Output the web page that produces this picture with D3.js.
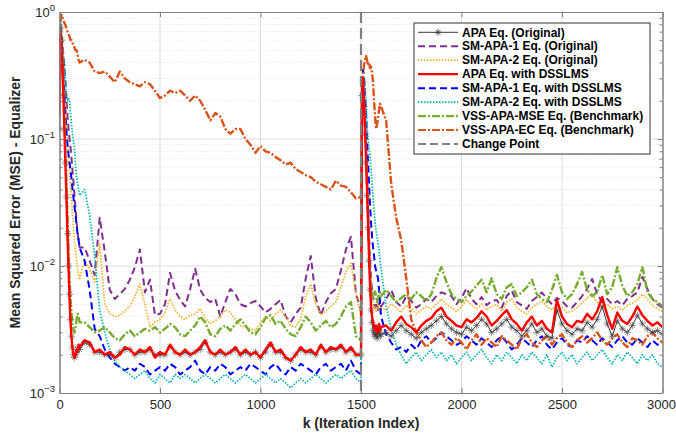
<!DOCTYPE html>
<html>
<head>
<meta charset="utf-8">
<script src="https://cdn.jsdelivr.net/npm/d3@7"></script>
<style>
  html, body { margin: 0; padding: 0; background: #fff; }
  svg { display: block; font-family: "Liberation Sans", Arial, sans-serif; }
</style>
</head>
<body>
<svg id="chart" width="676" height="436"></svg>
<script>
// Iteration indices at which the learning curves are sampled
const kGrid = [].concat(
  d3.range(0, 101, 5),        // start-up transient
  d3.range(125, 1476, 25),    // first steady state
  d3.range(1500, 1601, 5),    // change point transient
  d3.range(1625, 3001, 25)    // second steady state
);

// APA Eq. (Original)
const mseApaOrig = [
  0.12,0.75,0.6,0.38,0.22,0.12,0.065,0.035,0.018,0.010,
  0.006,0.0038,0.0028,0.0023,0.0020,0.0019,0.0020,0.0021,0.0022,0.0023,
  0.0022,
  0.0025,0.0024,0.0021,0.0021,0.0020,0.0020,0.0019,0.0021,0.0022,0.0022,
  0.0020,0.0021,0.0021,0.0022,0.0020,0.0020,0.0020,0.0023,0.0021,0.0020,
  0.0021,0.0020,0.0021,0.0022,0.0025,0.0021,0.0020,0.0021,0.0020,0.0021,
  0.0022,0.0020,0.0021,0.0020,0.0021,0.0019,0.0021,0.0024,0.0021,0.0021,
  0.0019,0.0018,0.0020,0.0022,0.0021,0.0021,0.0020,0.0023,0.0021,0.0022,
  0.0022,0.0023,0.0021,0.0022,0.0020,
  0.0020,0.22,0.28,0.18,0.11,0.065,0.036,0.020,0.011,0.0065,
  0.0045,0.0036,0.0031,0.0029,0.0028,0.0030,0.0027,0.0029,0.0031,0.0028,
  0.0029,
  0.0030,0.0028,0.0031,0.0034,0.0031,0.0029,0.0027,0.0030,0.0032,0.0034,
  0.0037,0.0040,0.0035,0.0032,0.0030,0.0029,0.0033,0.0031,0.0034,0.0038,
  0.0035,0.0030,0.0032,0.0035,0.0038,0.0033,0.0031,0.0028,0.0031,0.0035,
  0.0030,0.0032,0.0028,0.0027,0.0045,0.0035,0.0031,0.0029,0.0032,0.0031,
  0.0036,0.0033,0.0038,0.0048,0.0035,0.0028,0.0037,0.0032,0.0030,0.0034,
  0.0041,0.0035,0.0032,0.0030,0.0031,0.0029
];

// SM-APA-1 Eq. (Original)
const mseSmApa1Orig = [
  0.3,0.8,0.7,0.55,0.45,0.35,0.28,0.2,0.15,0.12,
  0.1,0.085,0.07,0.055,0.045,0.035,0.028,0.022,0.018,0.016,
  0.014,
  0.014,0.011,0.0085,0.024,0.013,0.0065,0.0055,0.0060,0.0066,0.0078,
  0.0098,0.0135,0.0062,0.0078,0.0041,0.0042,0.0050,0.0088,0.0064,0.0054,
  0.0048,0.0066,0.0095,0.0065,0.0056,0.0052,0.0055,0.0040,0.0052,0.0066,
  0.0060,0.0050,0.0048,0.0051,0.0053,0.0048,0.0043,0.0046,0.0050,0.0054,
  0.0040,0.0036,0.0042,0.0047,0.0080,0.0120,0.0056,0.0041,0.0052,0.0061,
  0.0066,0.0092,0.0135,0.0170,0.0060,
  0.0045,0.2,0.3,0.22,0.14,0.09,0.05,0.03,0.018,0.011,
  0.008,0.0062,0.0055,0.0050,0.0047,0.0052,0.0049,0.0045,0.0050,0.0054,
  0.0048,
  0.0055,0.0065,0.0052,0.0048,0.0058,0.0053,0.0047,0.0050,0.0055,0.0052,
  0.0058,0.0062,0.0060,0.0058,0.0050,0.0056,0.0067,0.0055,0.0050,0.0057,
  0.0049,0.0053,0.0054,0.0047,0.0058,0.0064,0.0052,0.0049,0.0046,0.0053,
  0.0057,0.0062,0.0055,0.0050,0.0056,0.0053,0.0048,0.0047,0.0052,0.0058,
  0.0066,0.0079,0.0060,0.0052,0.0055,0.0050,0.0053,0.0049,0.0055,0.0058,
  0.0062,0.0082,0.0066,0.0055,0.0050,0.0047
];

// SM-APA-2 Eq. (Original)
const mseSmApa2Orig = [
  0.4,0.75,0.65,0.5,0.38,0.28,0.2,0.14,0.1,0.075,
  0.055,0.042,0.032,0.025,0.02,0.016,0.013,0.011,0.0095,0.0085,
  0.008,
  0.011,0.0095,0.0075,0.0150,0.0050,0.0042,0.0040,0.0041,0.0044,0.0048,
  0.0058,0.0072,0.0050,0.0033,0.0036,0.0038,0.0043,0.0055,0.0045,0.0040,
  0.0038,0.0041,0.0042,0.0046,0.0039,0.0035,0.0037,0.0040,0.0045,0.0043,
  0.0038,0.0034,0.0033,0.0032,0.0031,0.0036,0.0040,0.0037,0.0042,0.0045,
  0.0040,0.0034,0.0033,0.0038,0.0058,0.0072,0.0050,0.0041,0.0044,0.0048,
  0.0052,0.0068,0.0090,0.0105,0.0060,
  0.0040,0.22,0.3,0.22,0.13,0.08,0.045,0.026,0.015,0.009,
  0.0065,0.0055,0.0050,0.0046,0.0048,0.0044,0.0046,0.0050,0.0045,0.0043,
  0.0047,
  0.0045,0.0050,0.0047,0.0043,0.0049,0.0046,0.0042,0.0045,0.0048,0.0046,
  0.0050,0.0055,0.0050,0.0047,0.0044,0.0048,0.0054,0.0049,0.0046,0.0050,
  0.0045,0.0048,0.0050,0.0044,0.0052,0.0055,0.0047,0.0044,0.0042,0.0047,
  0.0050,0.0053,0.0048,0.0045,0.0050,0.0047,0.0043,0.0044,0.0047,0.0051,
  0.0056,0.0060,0.0052,0.0049,0.0050,0.0046,0.0048,0.0045,0.0049,0.0051,
  0.0054,0.0060,0.0055,0.0049,0.0046,0.0044
];

// APA Eq. with DSSLMS
const mseApaDss = [
  0.15,0.7,0.55,0.35,0.2,0.11,0.06,0.032,0.017,0.0095,
  0.0055,0.0036,0.0027,0.0022,0.0020,0.0019,0.0020,0.0022,0.0021,0.0024,
  0.0023,
  0.0026,0.0025,0.0021,0.0022,0.0020,0.0021,0.0019,0.0020,0.0023,0.0022,
  0.0020,0.0022,0.0021,0.0023,0.0019,0.0021,0.0020,0.0024,0.0021,0.0020,
  0.0022,0.0020,0.0021,0.0023,0.0026,0.0021,0.0020,0.0022,0.0020,0.0021,
  0.0023,0.0020,0.0022,0.0020,0.0021,0.0019,0.0022,0.0025,0.0021,0.0022,
  0.0019,0.0018,0.0020,0.0023,0.0021,0.0022,0.0020,0.0024,0.0021,0.0023,
  0.0022,0.0024,0.0021,0.0023,0.0020,
  0.0020,0.25,0.3,0.2,0.12,0.07,0.04,0.022,0.012,0.007,
  0.0048,0.0040,0.0036,0.0033,0.0031,0.0034,0.0030,0.0032,0.0035,0.0031,
  0.0033,
  0.0034,0.0031,0.0036,0.0040,0.0035,0.0033,0.0030,0.0034,0.0037,0.0039,
  0.0044,0.0047,0.0040,0.0037,0.0034,0.0033,0.0038,0.0036,0.0039,0.0044,
  0.0040,0.0034,0.0037,0.0041,0.0045,0.0038,0.0035,0.0031,0.0036,0.0040,
  0.0034,0.0037,0.0032,0.0030,0.0054,0.0040,0.0035,0.0033,0.0037,0.0036,
  0.0042,0.0038,0.0044,0.0057,0.0041,0.0032,0.0043,0.0037,0.0035,0.0040,
  0.0048,0.0041,0.0037,0.0034,0.0036,0.0033
];

// SM-APA-1 Eq. with DSSLMS
const mseSmApa1Dss = [
  0.25,0.7,0.6,0.42,0.3,0.21,0.15,0.11,0.09,0.075,
  0.065,0.056,0.048,0.04,0.034,0.029,0.025,0.021,0.018,0.016,
  0.014,
  0.011,0.0065,0.0032,0.0028,0.0022,0.0019,0.0017,0.0016,0.0015,0.0016,
  0.0015,0.0017,0.0016,0.0014,0.0015,0.0016,0.0015,0.0017,0.0016,0.0014,
  0.0015,0.0016,0.0018,0.0015,0.0014,0.0016,0.0015,0.0017,0.0016,0.0014,
  0.0015,0.0016,0.0015,0.0017,0.0016,0.0015,0.0014,0.0016,0.0017,0.0015,
  0.0014,0.0016,0.0015,0.0017,0.0016,0.0015,0.0014,0.0016,0.0017,0.0015,
  0.0016,0.0017,0.0015,0.0018,0.0015,
  0.0014,0.22,0.35,0.3,0.22,0.16,0.1,0.065,0.045,0.03,
  0.022,0.017,0.014,0.012,0.010,0.0092,0.0085,0.008,0.0065,0.005,
  0.004,
  0.0029,0.0025,0.0022,0.0023,0.0021,0.0024,0.0022,0.0026,0.0028,0.0025,
  0.0027,0.0030,0.0028,0.0026,0.0024,0.0025,0.0028,0.0026,0.0024,0.0027,
  0.0025,0.0023,0.0026,0.0028,0.0025,0.0022,0.0024,0.0027,0.0025,0.0023,
  0.0026,0.0028,0.0024,0.0022,0.0025,0.0027,0.0024,0.0023,0.0026,0.0025,
  0.0028,0.0026,0.0024,0.0027,0.0025,0.0023,0.0026,0.0028,0.0025,0.0024,
  0.0027,0.0025,0.0023,0.0026,0.0024,0.0025
];

// SM-APA-2 Eq. with DSSLMS
const mseSmApa2Dss = [
  0.35,0.85,0.7,0.55,0.45,0.35,0.28,0.22,0.2,0.21,
  0.2,0.16,0.13,0.11,0.095,0.085,0.06,0.05,0.045,0.04,
  0.036,
  0.04,0.025,0.012,0.0045,0.003,0.0022,0.0018,0.0016,0.0015,0.0014,
  0.0013,0.0014,0.0015,0.0013,0.0012,0.0014,0.0013,0.0012,0.0014,0.0013,
  0.0014,0.0013,0.0012,0.0013,0.0014,0.0013,0.0012,0.0013,0.0014,0.0013,
  0.0012,0.0013,0.0014,0.0013,0.0012,0.0013,0.0014,0.0013,0.0012,0.0013,
  0.0012,0.0011,0.0012,0.0013,0.0012,0.0013,0.0014,0.0013,0.0012,0.0013,
  0.0014,0.0013,0.0014,0.0015,0.0013,
  0.0012,0.15,0.28,0.3,0.26,0.2,0.13,0.1,0.085,0.075,
  0.06,0.045,0.034,0.027,0.022,0.019,0.017,0.015,0.013,0.011,
  0.0095,
  0.0048,0.0032,0.0024,0.0020,0.0017,0.0019,0.0021,0.0018,0.0020,0.0022,
  0.0019,0.0021,0.0018,0.0020,0.0017,0.0019,0.0021,0.0018,0.0020,0.0022,
  0.0019,0.0017,0.0020,0.0018,0.0021,0.0019,0.0017,0.0020,0.0018,0.0021,
  0.0019,0.0017,0.0020,0.0016,0.0019,0.0021,0.0018,0.0020,0.0017,0.0019,
  0.0021,0.0018,0.0020,0.0022,0.0019,0.0017,0.0020,0.0018,0.0021,0.0019,
  0.0017,0.0020,0.0018,0.0020,0.0017,0.0016
];

// VSS-APA-MSE Eq. (Benchmark)
const mseVssMse = [
  0.3,0.75,0.6,0.4,0.24,0.14,0.08,0.045,0.025,0.014,
  0.008,0.0055,0.0042,0.0035,0.0031,0.0030,0.0033,0.0038,0.0042,0.0040,
  0.0036,
  0.0036,0.0033,0.0030,0.0031,0.0033,0.0030,0.0027,0.0026,0.0029,0.0031,
  0.0028,0.0030,0.0032,0.0031,0.0033,0.0030,0.0032,0.0035,0.0033,0.0029,
  0.0028,0.0031,0.0034,0.0040,0.0036,0.0029,0.0028,0.0032,0.0034,0.0031,
  0.0035,0.0038,0.0034,0.0030,0.0029,0.0033,0.0039,0.0041,0.0035,0.0037,
  0.0032,0.0029,0.0028,0.0033,0.0040,0.0036,0.0031,0.0034,0.0037,0.0033,
  0.0035,0.0040,0.0048,0.0052,0.0028,
  0.0026,0.2,0.3,0.2,0.13,0.08,0.045,0.024,0.013,0.0085,
  0.0065,0.0058,0.0055,0.0060,0.0063,0.0058,0.0052,0.0056,0.0060,0.0062,
  0.0058,
  0.0065,0.0058,0.0052,0.0056,0.0060,0.0055,0.0062,0.0058,0.0053,0.0060,
  0.0080,0.0098,0.0075,0.0060,0.0055,0.0052,0.0058,0.0063,0.0070,0.0078,
  0.0062,0.0080,0.0060,0.0055,0.0068,0.0072,0.0058,0.0062,0.0068,0.0078,
  0.0060,0.0055,0.0052,0.0065,0.0085,0.0062,0.0055,0.0060,0.0072,0.0090,
  0.0065,0.0058,0.0062,0.0085,0.0060,0.0068,0.0098,0.0070,0.0058,0.0062,
  0.0072,0.0098,0.0062,0.0055,0.0052,0.0048
];

// VSS-APA-EC Eq. (Benchmark)
const mseVssEc = [
  0.5,0.85,0.95,0.9,0.85,0.82,0.78,0.74,0.7,0.67,
  0.64,0.6,0.6,0.57,0.55,0.52,0.5,0.5,0.46,0.42,
  0.4,
  0.42,0.40,0.34,0.33,0.34,0.31,0.28,0.34,0.30,0.28,
  0.27,0.26,0.28,0.27,0.24,0.21,0.22,0.24,0.23,0.24,
  0.22,0.20,0.22,0.20,0.17,0.14,0.16,0.15,0.12,0.11,
  0.12,0.12,0.10,0.09,0.078,0.088,0.080,0.078,0.072,0.068,
  0.063,0.065,0.058,0.055,0.052,0.050,0.046,0.044,0.042,0.040,
  0.047,0.043,0.042,0.038,0.034,
  0.035,0.15,0.3,0.38,0.42,0.45,0.42,0.38,0.4,0.36,
  0.37,0.33,0.28,0.2,0.15,0.12,0.13,0.15,0.17,0.19,
  0.18,
  0.14,0.045,0.024,0.016,0.008,0.0038,0.0030,0.0026,0.0023,0.0025,
  0.0028,0.0030,0.0026,0.0024,0.0027,0.0025,0.0022,0.0026,0.0029,0.0024,
  0.0027,0.0025,0.0023,0.0028,0.0026,0.0024,0.0022,0.0027,0.0029,0.0025,
  0.0023,0.0026,0.0028,0.0024,0.0027,0.0029,0.0025,0.0023,0.0026,0.0028,
  0.0025,0.0027,0.0030,0.0026,0.0024,0.0027,0.0029,0.0025,0.0023,0.0027,
  0.0026,0.0024,0.0028,0.0030,0.0027,0.0025
];

const changePoint = 1500;
const xTicks = [0, 500, 1000, 1500, 2000, 2500, 3000];
const yDecades = [-3, -2, -1, 0];

const legendLabels = [
  "APA Eq. (Original)",
  "SM-APA-1 Eq. (Original)",
  "SM-APA-2 Eq. (Original)",
  "APA Eq. with DSSLMS",
  "SM-APA-1 Eq. with DSSLMS",
  "SM-APA-2 Eq. with DSSLMS",
  "VSS-APA-MSE Eq. (Benchmark)",
  "VSS-APA-EC Eq. (Benchmark)",
  "Change Point"
];

// ---- styles for each curve (legend order) ----
const styles = [
  { values: mseApaOrig,    color: "#3a3a3a", width: 1.0, dash: null,     marker: true },
  { values: mseSmApa1Orig, color: "#7E2F8E", width: 2.0, dash: "7,4" },
  { values: mseSmApa2Orig, color: "#EDB120", width: 1.7, dash: "1.5,1.5" },
  { values: mseApaDss,     color: "#FF0000", width: 2.4, dash: null },
  { values: mseSmApa1Dss,  color: "#0000FF", width: 2.0, dash: "7,4" },
  { values: mseSmApa2Dss,  color: "#00B3B3", width: 1.7, dash: "1.5,1.5" },
  { values: mseVssMse,     color: "#77AC30", width: 2.4, dash: "8,2,2,2" },
  { values: mseVssEc,      color: "#D95319", width: 2.4, dash: "8,2,2,2" }
];
styles.forEach(s => {
  if (s.values.length !== kGrid.length) throw new Error("length mismatch " + s.values.length + " vs " + kGrid.length);
});

const svg = d3.select("#chart");
const L = 59.5, R = 662.5, T = 12, B = 393;
const x = d3.scaleLinear().domain([0, 3000]).range([L, R]);
const y = d3.scaleLog().domain([1e-3, 1]).range([B, T]);

const gridColor = "#dcdcdc";
const axisColor = "#808080";
const textColor = "#262626";

// grid
const grid = svg.append("g");
const minorY = [];
for (let d = -3; d < 0; d++) for (let m = 2; m <= 9; m++) minorY.push(m * Math.pow(10, d));
grid.selectAll("line.minor").data(minorY).join("line")
  .attr("x1", L).attr("x2", R)
  .attr("y1", d => y(d)).attr("y2", d => y(d))
  .attr("stroke", "#d6d6d6").attr("stroke-width", 0.8).attr("stroke-dasharray", "1,2");
grid.selectAll("line.majy").data([1e-2, 1e-1]).join("line")
  .attr("x1", L).attr("x2", R)
  .attr("y1", d => y(d)).attr("y2", d => y(d))
  .attr("stroke", gridColor).attr("stroke-width", 1);
grid.selectAll("line.majx").data(xTicks.slice(1, -1)).join("line")
  .attr("x1", d => x(d)).attr("x2", d => x(d))
  .attr("y1", T).attr("y2", B)
  .attr("stroke", gridColor).attr("stroke-width", 1);

// curves
svg.append("clipPath").attr("id", "plotClip")
  .append("rect").attr("x", L).attr("y", T).attr("width", R - L).attr("height", B - T);
const plot = svg.append("g").attr("clip-path", "url(#plotClip)");
const line = d3.line().x(d => x(d[0])).y(d => y(d[1]));
const drawOrder = [1, 2, 4, 5, 6, 7, 0, 3];
const starPath = "M-3.5,0H3.5M0,-3.5V3.5M-2.5,-2.5L2.5,2.5M-2.5,2.5L2.5,-2.5";

drawOrder.forEach(i => {
  const s = styles[i];
  const pts = kGrid.map((k, j) => [k, s.values[j]]);
  if (s.marker) {
    plot.append("g").selectAll("path").data(pts).join("path")
      .attr("d", starPath)
      .attr("transform", d => `translate(${x(d[0])},${y(d[1])})`)
      .attr("fill", "none").attr("stroke", "#4d4d4d").attr("stroke-width", 0.8)
      .attr("stroke-opacity", 0.8);
  }
  plot.append("path").datum(pts)
    .attr("d", line)
    .attr("fill", "none")
    .attr("stroke", s.color)
    .attr("stroke-width", s.width)
    .attr("stroke-dasharray", s.dash)
    .attr("stroke-linejoin", "round");
});

// change point marker
svg.append("line")
  .attr("x1", x(changePoint)).attr("x2", x(changePoint))
  .attr("y1", T).attr("y2", B)
  .attr("stroke", "#7f7f7f").attr("stroke-width", 2.2).attr("stroke-dasharray", "11,5");

// axes (ticks pointing inward on all four sides)
const axB = d3.axisBottom(x).tickValues(xTicks).tickFormat(d3.format("d"))
  .tickSizeInner(-5).tickSizeOuter(0).tickPadding(7);
const axT = d3.axisTop(x).tickValues(xTicks).tickSizeInner(-5).tickSizeOuter(0).tickFormat("");
const majorY = yDecades.map(d => Math.pow(10, d));
const axLmaj = d3.axisLeft(y).tickValues(majorY).tickSizeInner(-5).tickSizeOuter(0).tickFormat("");
const axLmin = d3.axisLeft(y).tickValues(minorY).tickSizeInner(-3).tickSizeOuter(0).tickFormat("");
const axRmaj = d3.axisRight(y).tickValues(majorY).tickSizeInner(-5).tickSizeOuter(0).tickFormat("");
const axRmin = d3.axisRight(y).tickValues(minorY).tickSizeInner(-3).tickSizeOuter(0).tickFormat("");

function styleAxis(g) {
  g.selectAll("path.domain").attr("stroke", axisColor).attr("stroke-width", 1);
  g.selectAll(".tick line").attr("stroke", axisColor).attr("stroke-width", 1);
  g.selectAll("text").attr("fill", textColor).attr("font-size", 13)
    .attr("font-family", "'Liberation Sans', Arial, sans-serif");
}
const gB = svg.append("g").attr("transform", `translate(0,${B})`).call(axB).call(styleAxis);
// keep the last label inside the canvas
gB.selectAll(".tick text").filter(d => d === 3000).attr("dx", -1.5);
svg.append("g").attr("transform", `translate(0,${T})`).call(axT).call(styleAxis);
svg.append("g").attr("transform", `translate(${L},0)`).call(axLmin).call(styleAxis);
svg.append("g").attr("transform", `translate(${L},0)`).call(axLmaj).call(styleAxis);
svg.append("g").attr("transform", `translate(${R},0)`).call(axRmin).call(styleAxis);
svg.append("g").attr("transform", `translate(${R},0)`).call(axRmaj).call(styleAxis);

// y tick labels as powers of ten
const yLab = svg.append("g").attr("fill", textColor)
  .attr("font-family", "'Liberation Sans', Arial, sans-serif");
yDecades.forEach(d => {
  const t = yLab.append("text")
    .attr("x", 55).attr("y", y(Math.pow(10, d)) + 4.5)
    .attr("text-anchor", "end").attr("font-size", 13);
  t.append("tspan").text("10");
  t.append("tspan").attr("dy", -6).attr("font-size", 9.5).text(String(d).replace("-", "\u2212"));
});

// axis titles
svg.append("text")
  .attr("x", (L + R) / 2).attr("y", 428)
  .attr("text-anchor", "middle").attr("font-size", 14).attr("font-weight", "bold")
  .attr("fill", textColor).text("k (Iteration Index)");
svg.append("text")
  .attr("transform", `translate(20,${(T + B) / 2}) rotate(-90)`)
  .attr("text-anchor", "middle").attr("font-size", 14).attr("font-weight", "bold")
  .attr("fill", textColor).text("Mean Squared Error (MSE) - Equalizer");

// legend
const leg = svg.append("g");
const lx = 414, ly = 23, lw = 236, lh = 131;
leg.append("rect").attr("x", lx).attr("y", ly).attr("width", lw).attr("height", lh)
  .attr("fill", "#fff").attr("stroke", "#333").attr("stroke-width", 1);
const legendStyles = styles.concat([{ color: "#7f7f7f", width: 2.2, dash: "8,4" }]);
legendLabels.forEach((label, i) => {
  const s = legendStyles[i];
  const cy = 32.3 + i * 13.96;
  leg.append("line").attr("x1", lx + 4).attr("x2", lx + 44).attr("y1", cy).attr("y2", cy)
    .attr("stroke", s.color).attr("stroke-width", Math.min(s.width, 2.2)).attr("stroke-dasharray", s.dash);
  if (s.marker) {
    leg.append("path").attr("d", starPath)
      .attr("transform", `translate(${lx + 24},${cy})`)
      .attr("fill", "none").attr("stroke", "#3a3a3a").attr("stroke-width", 0.8);
  }
  leg.append("text").attr("x", lx + 48).attr("y", cy + 4.2)
    .attr("font-size", 12).attr("font-weight", "bold").attr("fill", "#000")
    .text(label);
});
</script>
</body>
</html>
